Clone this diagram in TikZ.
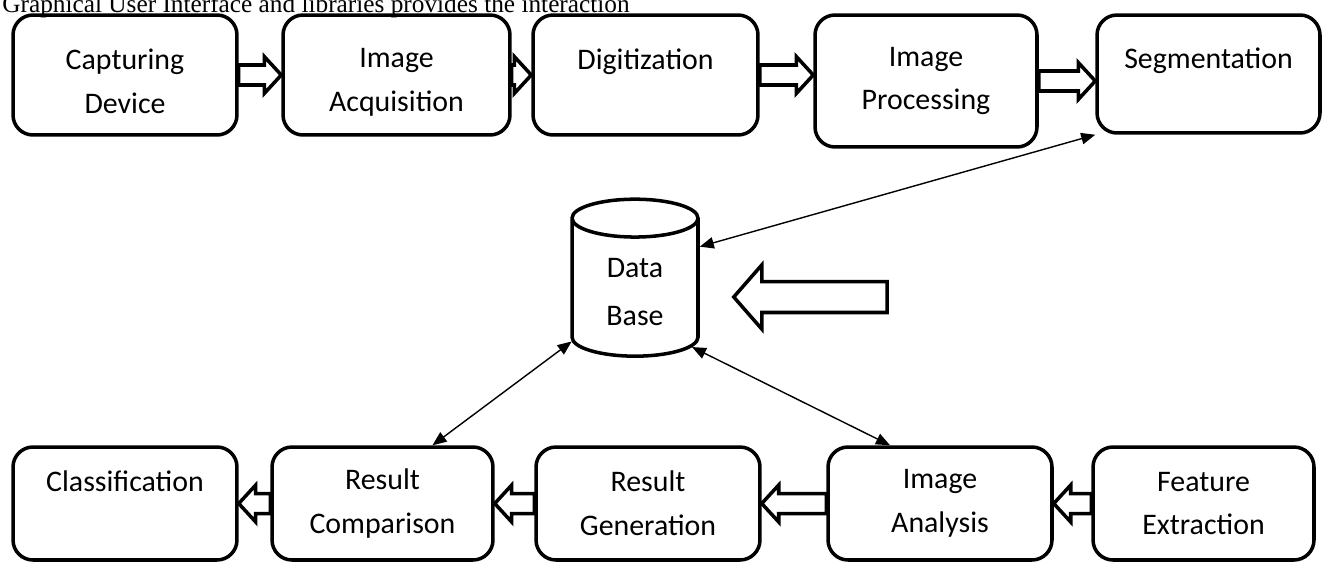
\documentclass[tikz,border=0pt]{standalone}
\usepackage{fontspec}
\setmainfont{Carlito}
\newfontfamily\capfont{Liberation Serif}
\usetikzlibrary{arrows.meta,shapes.geometric,calc}

% sizes of the hollow block arrows
\newcommand{\fatshaft}{0.2cm}
\newcommand{\fathead}{0.37cm}
\newcommand{\fatlen}{0.34cm}
% hollow block arrow from #1 to #2, at the height of #1
\newcommand{\fatarrow}[2]{%
  \draw[fat] let \p1=(#1), \p2=(#2), \n1={sign(\x2-\x1)} in
    (\x1,{\y1+\fatshaft}) -- ({\x2-\n1*\fatlen},{\y1+\fatshaft})
    -- ({\x2-\n1*\fatlen},{\y1+\fathead}) -- (\x2,\y1)
    -- ({\x2-\n1*\fatlen},{\y1-\fathead}) -- ({\x2-\n1*\fatlen},{\y1-\fatshaft})
    -- (\x1,{\y1-\fatshaft}) -- cycle;}
% extra room above the first line of a box
\newcommand{\padtop}[1]{\rule{0pt}{#1}}

\tikzset{
  stage/.style={draw, line width=2pt, rounded corners=0.4cm, align=center,
    font=\fontsize{17}{25}\selectfont, inner sep=0pt,
    minimum width=4.48cm, minimum height=2.4cm},
  fat/.style={draw, fill=white, line width=2pt, line join=miter},
  link/.style={<->, line width=0.8pt},
}

\begin{document}
\begin{tikzpicture}[x=0.02cm,y=-0.02cm,>={Triangle[length=8pt,width=6.5pt]}]
  \useasboundingbox (0,0) rectangle (1324,565);

  \node[anchor=base west, inner sep=0pt, font=\capfont\fontsize{14.4}{16}\selectfont] (gui)
    at (2,12) {Graphical User Interface and libraries provides the interaction};

  % top row
  \node[stage] (cap) at (125,75) {\padtop{19pt}Capturing\\Device};
  \node[stage, minimum width=4.54cm] (acq) at (396.5,75) {\padtop{19pt}Image\\Acquisition};
  \node[stage, minimum width=4.5cm] (dig) at (645.5,75) {\padtop{19pt}Digitization\\ \mbox{}};
  \node[stage, minimum width=4.44cm, minimum height=2.64cm] (proc) at (926,81) {Image\\Processing};
  \node[stage, minimum width=4.46cm, minimum height=2.36cm] (seg) at (1208.5,74) {\padtop{19pt}Segmentation\\ \mbox{}};

  % bottom row
  \node[stage, minimum height=2.26cm] (cls) at (125,503.5) {Classification\\ \mbox{}};
  \node[stage, minimum width=4.42cm, minimum height=2.26cm] (rc) at (382.5,503.5) {Result\\Comparison};
  \node[stage, minimum height=2.26cm] (rg) at (648,503.5) {Result\\Generation};
  \node[stage, minimum height=2.26cm] (ia) at (940,503.5) {Image\\Analysis};
  \node[stage, minimum width=4.42cm, minimum height=2.26cm] (fe) at (1203.5,503.5) {Feature\\Extraction};

  % data base
  \node[draw, line width=2pt, cylinder, shape border rotate=90, aspect=0.55,
    minimum width=2.52cm, minimum height=3.14cm, align=center,
    font=\fontsize{17}{27}\selectfont] (db) at (635,292) {Data\\Base};

  \fatarrow{cap.east}{acq.west}
  \fatarrow{acq.east}{dig.west}
  \fatarrow{dig.east}{proc.west}
  \fatarrow{proc.east}{seg.west}
  \fatarrow{rc.west}{cls.east}
  \fatarrow{rg.west}{rc.east}
  \fatarrow{ia.west}{rg.east}
  \fatarrow{fe.west}{ia.east}

  \coordinate (feed) at (887,297);
  {\renewcommand{\fatshaft}{0.31cm}\renewcommand{\fathead}{0.64cm}\renewcommand{\fatlen}{0.56cm}
   \fatarrow{feed}{[xshift=0.68cm]db.east}}

  \draw[link] (seg.south west) -- (db.35);
  \draw[link] ([xshift=1cm]rc.north) -- (db.218);
  \draw[link] ([xshift=-1cm]ia.north) -- (db.316);
\end{tikzpicture}
\end{document}
